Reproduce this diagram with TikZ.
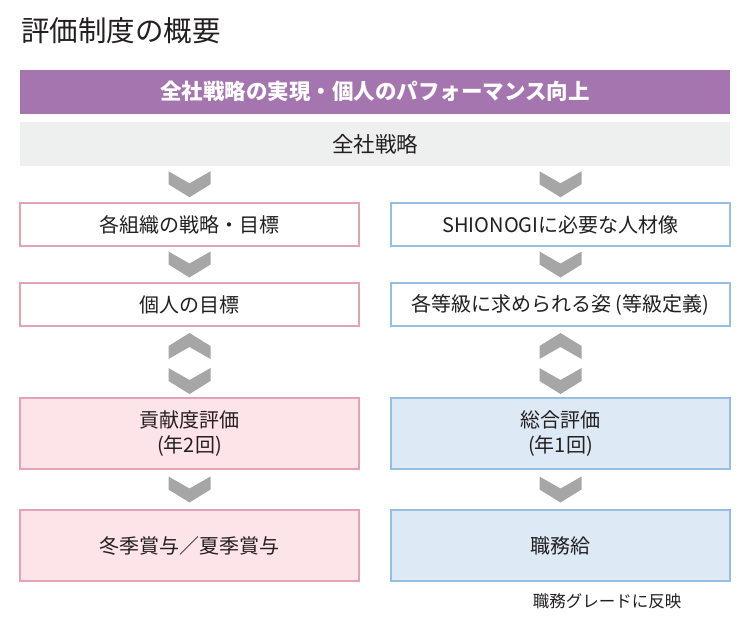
\documentclass[tikz,border=0pt]{standalone}
\usepackage{fontspec}
\setmainfont{Noto Sans CJK JP}
\usetikzlibrary{calc}

\definecolor{viola}{HTML}{A575B0}
\definecolor{grigiochiaro}{HTML}{EEF0EF}
\definecolor{grigio}{HTML}{A6A6A6}
\definecolor{rosa}{HTML}{E3A3B3}
\definecolor{rosachiaro}{HTML}{FCE4E9}
\definecolor{azzurro}{HTML}{95BEE0}
\definecolor{azzurrochiaro}{HTML}{DDE9F5}
\definecolor{testo}{HTML}{231F20}

\tikzset{
    barra/.style={minimum width=710pt, minimum height=44pt, inner sep=0pt},
    box/.style={line width=1.3pt, minimum width=339pt, inner sep=0pt, align=center,
        text=testo, font=\fontsize{20}{25}\selectfont},
    boxsx/.style={box, draw=rosa, fill=white, minimum height=43pt},
    boxdx/.style={box, draw=azzurro, fill=white, minimum height=43pt},
    boxsxpieno/.style={box, draw=rosa, fill=rosachiaro, minimum height=71pt},
    boxdxpieno/.style={box, draw=azzurro, fill=azzurrochiaro, minimum height=71pt},
}

% freccia a V verso il basso / verso l'alto
\newcommand{\chevgiu}[1]{\fill[grigio, shift={(#1)}] (-21,-13) -- (0,-1) -- (21,-13) -- (21,0) -- (0,13) -- (-21,0) -- cycle;}
\newcommand{\chevsu}[1]{\fill[grigio, shift={(#1)}] (0,-13) -- (21,0) -- (21,13) -- (0,1) -- (-21,13) -- (-21,0) -- cycle;}

\begin{document}
\begin{tikzpicture}[x=1pt, y=-1pt]
    \useasboundingbox (0,0) rectangle (750,622);

    % titolo
    \node[anchor=west, inner sep=0pt, text=testo, font=\fontsize{28.5}{32}\selectfont] (titolo) at (21,31) {評価制度の概要};

    % barre in alto
    \node[barra, fill=viola, text=white, font=\fontsize{21.5}{25}\selectfont\bfseries] (obiettivo) at (375,91.5) {全社戦略の実現・個人のパフォーマンス向上};
    \node[barra, fill=grigiochiaro, text=testo, font=\fontsize{21.5}{25}\selectfont] (strategia) at (375,144) {全社戦略};

    % colonna sinistra
    \node[boxsx] (sx1) at (189.5,224.5) {各組織の戦略・目標};
    \node[boxsx] (sx2) at (189.5,304.5) {個人の目標};
    \node[boxsxpieno] (sx3) at (189.5,433.5) {貢献度評価\\(年2回)};
    \node[boxsxpieno] (sx4) at (189.5,545.5) {冬季賞与／夏季賞与};

    % colonna destra
    \node[boxdx] (dx1) at (560.5,224.5) {SHIONOGIに必要な人材像};
    \node[boxdx] (dx2) at (560.5,304.5) {各等級に求められる姿 (等級定義)};
    \node[boxdxpieno] (dx3) at (560.5,433.5) {総合評価\\(年1回)};
    \node[boxdxpieno] (dx4) at (560.5,545.5) {職務給};

    % nota
    \node[inner sep=0pt, text=testo, font=\fontsize{16.5}{19}\selectfont] (nota) at (607,601) {職務グレードに反映};

    % frecce
    \foreach \lato in {sx,dx}{
        \coordinate (a0\lato) at ($(strategia.south -| \lato1.north)!0.5!(\lato1.north)$);
        \coordinate (a1\lato) at ($(\lato1.south)!0.5!(\lato2.north)$);
        \coordinate (a2\lato) at ($(\lato2.south)!0.5!(\lato3.north)$);
        \coordinate (a3\lato) at ($(\lato3.south)!0.5!(\lato4.north)$);
        \chevgiu{a0\lato}
        \chevgiu{a1\lato}
        \chevsu{$(a2\lato)+(0,-16)$}
        \chevgiu{$(a2\lato)+(0,19)$}
        \chevgiu{a3\lato}
    }
\end{tikzpicture}
\end{document}
